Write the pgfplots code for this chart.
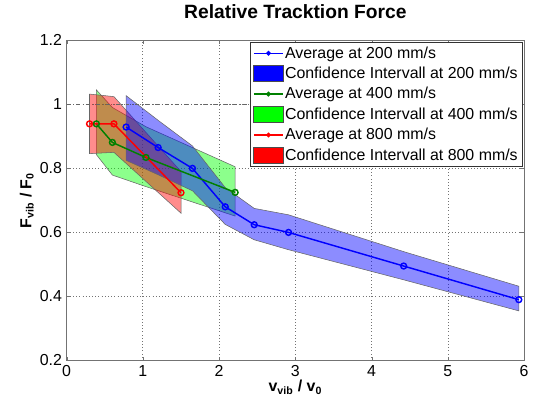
\documentclass[border=0pt]{standalone}
\usepackage{fontspec}
\setmainfont{Liberation Sans}
\usepackage{pgfplots}
\pgfplotsset{compat=1.18}

\definecolor{mblue}{rgb}{0,0,1}
\definecolor{mgreen}{rgb}{0,0.5,0}
\definecolor{lgreen}{rgb}{0,1,0}
\definecolor{mred}{rgb}{1,0,0}

\pgfplotsset{
  mylegline/.style={legend image code/.code={%
    \draw[mark repeat=2,mark phase=2,##1] plot coordinates {(0pt,0pt) (11pt,0pt) (22pt,0pt)};}},
  mylegbox/.style={legend image code/.code={%
    \draw[fill=#1, draw=black!70] (0pt,-6pt) rectangle (22pt,6pt);}},
}

\pgfplotstableread{
x y
0.78 0.929
1.20 0.865
1.65 0.800
2.08 0.680
2.46 0.624
2.91 0.600
4.42 0.495
5.93 0.390
}\avgA
\pgfplotstableread{
x y
0.39 0.939
0.60 0.881
1.04 0.834
2.21 0.725
}\avgB
\pgfplotstableread{
x y
0.30 0.939
0.62 0.939
1.50 0.724
}\avgC

\begin{document}
\begin{tikzpicture}
\begin{axis}[
    scale only axis,
    width=345pt, height=241.5pt,
    xmin=0, xmax=6, ymin=0.2, ymax=1.2,
    xtick={0,1,...,6},
    ytick={0.2,0.4,0.6,0.8,1.0,1.2},
    grid=major,
    major grid style={dotted, black!55, line width=0.6pt},
    axis line style={black!55},
    tick style={black!55},
    tick align=inside,
    major tick length=3pt,
    /pgf/number format/assume math mode=true,
    ticklabel style={font=\fontsize{12}{14}\selectfont},
    title={\textbf{Relative Tracktion Force}},
    title style={font=\fontsize{14.5}{16}\selectfont, at={(axis description cs:0.5,1.065)}, anchor=center},
    xlabel={\textbf{v\textsubscript{vib} / v\textsubscript{0}}},
    xlabel style={font=\fontsize{12}{14}\selectfont, at={(axis description cs:0.5,-0.083)}, anchor=center},
    ylabel={\textbf{F\textsubscript{vib} / F\textsubscript{0}}},
    ylabel style={font=\fontsize{12}{14}\selectfont, at={(axis description cs:-0.087,0.5)}, anchor=center},
    legend cell align=left,
    legend style={at={(0.996,0.995)}, anchor=north east, draw=black!80, line width=0.6pt,
        font=\fontsize{12}{14}\selectfont, row sep=3pt, inner sep=2.2pt,
        nodes={inner sep=1pt}},
]
% confidence bands (green, red, blue)
\addplot[forget plot, fill=lgreen, fill opacity=0.45, draw=black!60, line width=0.4pt] coordinates {
(0.39,1.045) (0.60,0.990) (1.04,0.930) (2.21,0.805)
(2.21,0.651) (1.04,0.743) (0.60,0.779) (0.39,0.843)} -- cycle;
\addplot[forget plot, fill=mred, fill opacity=0.45, draw=black!60, line width=0.4pt] coordinates {
(0.30,1.032) (0.62,1.024) (1.50,0.790)
(1.50,0.660) (0.62,0.850) (0.30,0.846)} -- cycle;
\addplot[forget plot, fill=mblue, fill opacity=0.45, draw=black!60, line width=0.4pt] coordinates {
(0.78,1.027) (1.20,0.950) (1.65,0.870) (2.08,0.740) (2.46,0.675) (2.91,0.655) (4.42,0.540) (5.93,0.432)
(5.93,0.355) (4.42,0.452) (2.91,0.546) (2.46,0.577) (2.08,0.625) (1.65,0.730) (1.20,0.780) (0.78,0.825)} -- cycle;
% reference line at 1
\addplot[forget plot, black!60, dash dot, line width=0.6pt] coordinates {(0,1) (6,1)};
% averages
\addplot[forget plot, mblue, line width=1.1pt, mark=o, mark size=2.2pt] table {\avgA};
\addplot[forget plot, mgreen, line width=1.1pt, mark=o, mark size=2.2pt] table {\avgB};
\addplot[forget plot, mred, line width=1.1pt, mark=o, mark size=2.2pt] table {\avgC};
% legend
\addlegendimage{mylegline, mblue, line width=1pt, mark=*, mark size=1.3pt}
\addlegendentry{Average at 200 mm/s}
\addlegendimage{mylegbox=mblue}
\addlegendentry{Confidence Intervall at 200 mm/s}
\addlegendimage{mylegline, mgreen, line width=1pt, mark=*, mark size=1.3pt}
\addlegendentry{Average at 400 mm/s}
\addlegendimage{mylegbox=lgreen}
\addlegendentry{Confidence Intervall at 400 mm/s}
\addlegendimage{mylegline, mred, line width=1pt, mark=*, mark size=1.3pt}
\addlegendentry{Average at 800 mm/s}
\addlegendimage{mylegbox=mred}
\addlegendentry{Confidence Intervall at 800 mm/s}
\end{axis}
\path[use as bounding box] (-50.25pt,-35.25pt) rectangle (349.5pt,268.5pt);
\end{tikzpicture}
\end{document}
